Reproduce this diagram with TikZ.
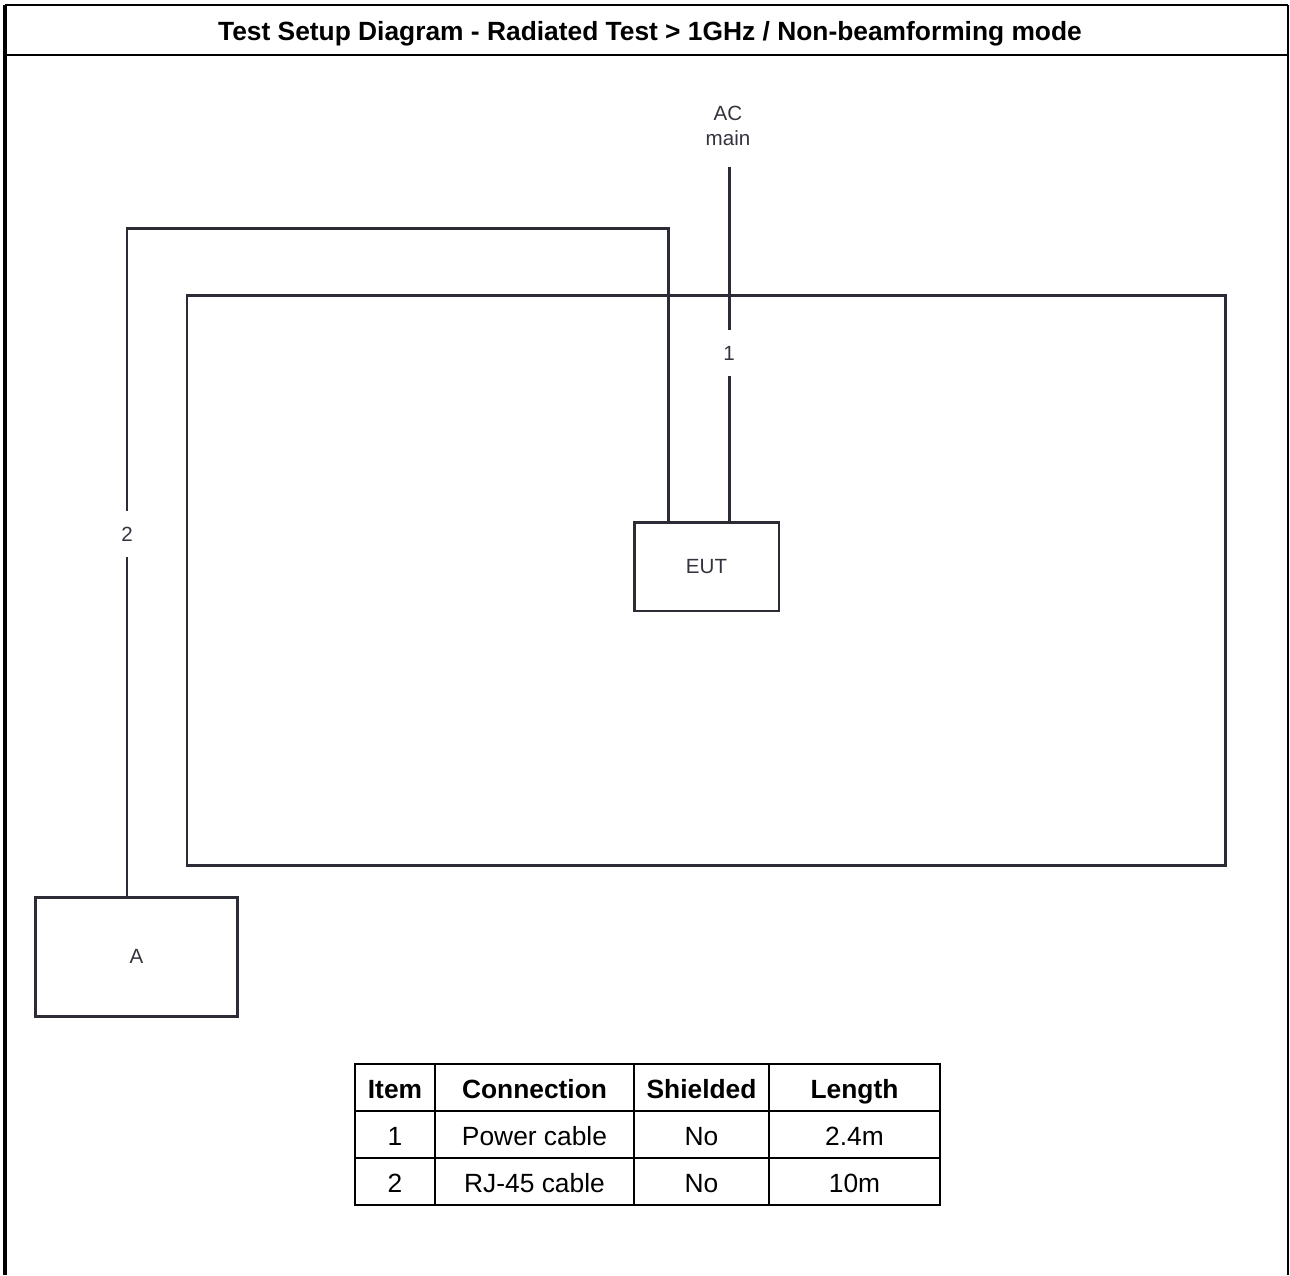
\documentclass[tikz,border=0pt]{standalone}
\usepackage{fontspec}
\setmainfont{Liberation Sans}
\usetikzlibrary{positioning}
\definecolor{wireGray}{RGB}{44,44,54}
\definecolor{labelGray}{RGB}{52,52,62}

\begin{document}
\begin{tikzpicture}
[x=0.02cm,y=-0.02cm,%
  lineDecorate/.style={-,line width=1.7pt,draw=wireGray},%
  boxDecorate/.style={shape=rectangle,draw=wireGray,line width=1.7pt,inner sep=0pt,text=labelGray,font=\fontsize{11.7}{14.7}\selectfont},%
  labelDecorate/.style={inner sep=0pt,minimum height=0.9cm,text=labelGray,font=\fontsize{11.7}{14.7}\selectfont},%
  cellDecorate/.style={shape=rectangle,draw=black,line width=1.2pt,inner sep=0pt,minimum height=0.94cm,text height=13pt,text depth=0pt,font=\fontsize{15}{18}\selectfont}]
\useasboundingbox (0,0) rectangle (1290,1275);
%% frame and title
\draw[line width=2.3pt] (5,1275) -- (5,5);
\draw[line width=1.7pt] (5,5) -- (1288,5);
\draw[line width=1.2pt] (1288,5) -- (1288,1275);
\draw[line width=1.7pt] (5,55) -- (1288,55);
\node[font=\bfseries\fontsize{15}{18}\selectfont] (title) at (650,34)
  {Test Setup Diagram - Radiated Test > 1GHz / Non-beamforming mode};
%% chamber
\draw[lineDecorate] (187,295) rectangle (1225,865);
%% equipment
\node[boxDecorate,minimum width=2.9cm,minimum height=1.78cm] (eut) at (706.5,566.5) {EUT};
\node[boxDecorate,minimum width=4.06cm,minimum height=2.38cm] (a) at (136.5,956.5) {A};
\node[labelDecorate,minimum height=0pt,align=center] (ac) at (728,126) {AC\\main};
%% cable labels and bends
\node[labelDecorate] (one) at (729,353) {1};
\node[labelDecorate] (two) at (127,534) {2};
\coordinate (acplug) at (729,167);
\coordinate (bendLeft) at (127,228);
\coordinate (bendRight) at (668,228);
%% cables
\path
(acplug) edge[lineDecorate] (one)
(one) edge[lineDecorate] (eut.north -| one)
(a.north -| two) edge[lineDecorate] (two);
\draw[lineDecorate] (two) -- (bendLeft) -- (bendRight) -- (eut.north -| bendRight);
%% cable table
\foreach \row/\y/\fnt/\itm/\conn/\shield/\lng in {
  0/1087.5/\bfseries/Item/Connection/Shielded/Length,
  1/1134.5/\mdseries/1/Power cable/No/2.4m,
  2/1181.5/\mdseries/2/RJ-45 cable/No/10m}
{
  \node[cellDecorate,minimum width=1.6cm] (item\row) at (395,\y) {\fnt\itm};
  \node[cellDecorate,minimum width=3.98cm] (conn\row) at (534.5,\y) {\fnt\conn};
  \node[cellDecorate,minimum width=2.7cm] (shield\row) at (701.5,\y) {\fnt\shield};
  \node[cellDecorate,minimum width=3.42cm] (len\row) at (854.5,\y) {\fnt\lng};
}
\end{tikzpicture}
\end{document}
